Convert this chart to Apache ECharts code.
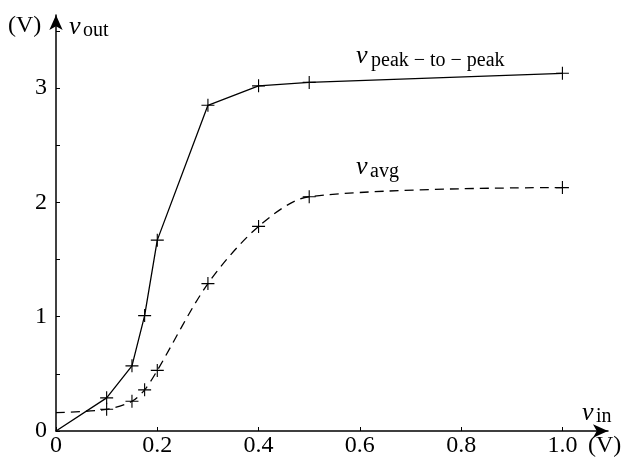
<!DOCTYPE html>
<html>
<head>
<meta charset="utf-8">
<script src="https://cdn.jsdelivr.net/npm/echarts@6/dist/echarts.min.js"></script>
<style>html,body{margin:0;padding:0;background:#fff;}#c{width:623px;height:463px;}</style>
</head>
<body>
<div id="c"></div>
<script>
// Data
const vinPeak = [0, 0.1, 0.15, 0.175, 0.2, 0.3, 0.4, 0.5, 1.0];
const vPeak   = [0, 0.29, 0.57, 1.01, 1.67, 2.85, 3.02, 3.05, 3.13];
const vinAvg  = [0, 0.1, 0.15, 0.175, 0.2, 0.3, 0.4, 0.5, 1.0];
const vAvg    = [0.16, 0.19, 0.26, 0.36, 0.53, 1.29, 1.79, 2.05, 2.13];
const xTickValues = [0, 0.2, 0.4, 0.6, 0.8, 1.0];
const xTickLabels = ['0', '0.2', '0.4', '0.6', '0.8', '1.0'];
const yTickValues = [0, 0.5, 1, 1.5, 2, 2.5, 3, 3.5];
const yLabelValues = [0, 1, 2, 3];

const chart = echarts.init(document.getElementById('c'), null, {renderer: 'canvas'});
const serif = '"Liberation Serif", "DejaVu Serif", serif';
const plus = 'path://M0,6.4H14V7.6H0Z M6.4,0H7.6V14H6.4Z';

function pts(xs, ys) {
  return xs.map((x, i) => ({
    value: [x, ys[i]],
    symbol: i === 0 ? 'none' : plus
  }));
}

const option = {
  animation: false,
  backgroundColor: '#fff',
  grid: {left: 56, right: 15, top: 15, bottom: 32, containLabel: false},
  xAxis: {
    type: 'value', min: 0, max: 1.09,
    splitLine: {show: false},
    axisLine: {show: true, onZero: false, lineStyle: {color: '#000', width: 1.5},
      symbol: ['none', 'arrow'], symbolSize: [10, 15]},
    axisTick: {show: true, inside: true, length: 4, lineStyle: {color: '#000', width: 1},
      customValues: xTickValues},
    axisLabel: {show: true, margin: 3, color: '#000', fontFamily: serif, fontSize: 24,
      customValues: xTickValues,
      formatter: v => { const i = xTickValues.findIndex(t => Math.abs(t - v) < 1e-9); return i >= 0 ? xTickLabels[i] : ''; }}
  },
  yAxis: {
    type: 'value', min: 0, max: 3.64,
    splitLine: {show: false},
    axisLine: {show: true, onZero: false, lineStyle: {color: '#000', width: 1.5},
      symbol: ['none', 'arrow'], symbolSize: [10, 15]},
    axisTick: {show: true, inside: true, length: 4, lineStyle: {color: '#000', width: 1},
      customValues: yTickValues},
    axisLabel: {show: true, margin: 9, color: '#000', fontFamily: serif, fontSize: 24,
      customValues: yLabelValues,
      formatter: v => String(Math.round(v))}
  },
  series: [
    {
      type: 'line', data: pts(vinPeak, vPeak),
      symbolSize: 13, showAllSymbol: true,
      lineStyle: {color: '#000', width: 1.3, type: 'solid'},
      itemStyle: {color: '#000'},
      z: 3
    },
    {
      type: 'line', data: pts(vinAvg, vAvg),
      smooth: 0.3,
      symbolSize: 13, showAllSymbol: true,
      lineStyle: {color: '#000', width: 1.3, type: [9, 6]},
      itemStyle: {color: '#000'},
      z: 3
    }
  ],
  graphic: [
    {type: 'text', x: 8, y: 26, style: {text: '(V)', font: '24px ' + serif, fill: '#000', textVerticalAlign: 'middle'}},
    {type: 'text', x: 69, y: 27, style: {text: 'v', font: 'italic 26px ' + serif, fill: '#000', textVerticalAlign: 'middle'}},
    {type: 'text', x: 83, y: 31, style: {text: 'out', font: '20px ' + serif, fill: '#000', textVerticalAlign: 'middle'}},
    {type: 'text', x: 582, y: 413, style: {text: 'v', font: 'italic 26px ' + serif, fill: '#000', textVerticalAlign: 'middle'}},
    {type: 'text', x: 596, y: 417, style: {text: 'in', font: '20px ' + serif, fill: '#000', textVerticalAlign: 'middle'}},
    {type: 'text', x: 588, y: 446, style: {text: '(V)', font: '24px ' + serif, fill: '#000', textVerticalAlign: 'middle'}},
    {type: 'text', x: 356, y: 56, style: {text: 'v', font: 'italic 26px ' + serif, fill: '#000', textVerticalAlign: 'middle'}},
    {type: 'text', x: 371, y: 61, style: {text: 'peak \u2212 to \u2212 peak', font: '20px ' + serif, fill: '#000', textVerticalAlign: 'middle'}},
    {type: 'text', x: 356, y: 167, style: {text: 'v', font: 'italic 26px ' + serif, fill: '#000', textVerticalAlign: 'middle'}},
    {type: 'text', x: 370, y: 172, style: {text: 'avg', font: '20px ' + serif, fill: '#000', textVerticalAlign: 'middle'}}
  ]
};
chart.setOption(option);
</script>
</body>
</html>
